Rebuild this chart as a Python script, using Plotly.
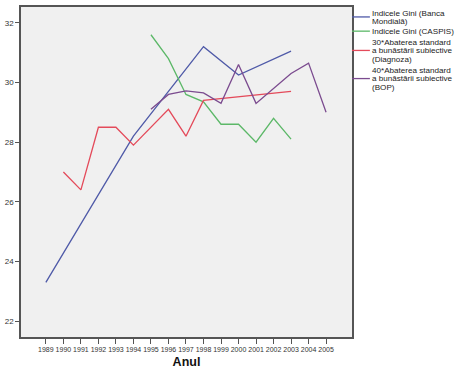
import plotly.graph_objects as go

years_bm = [1989, 1994, 1998, 2000, 2003]
gini_bm = [23.3, 28.2, 31.2, 30.25, 31.05]

years_caspis = [1995, 1996, 1997, 1998, 1999, 2000, 2001, 2002, 2003]
gini_caspis = [31.6, 30.8, 29.6, 29.35, 28.6, 28.6, 28.0, 28.8, 28.1]

years_diag = [1990, 1991, 1992, 1993, 1994, 1995, 1996, 1997, 1998, 2003]
sd_diag = [27.0, 26.4, 28.5, 28.5, 27.9, 28.5, 29.1, 28.2, 29.4, 29.7]

years_bop = [1995, 1996, 1997, 1998, 1999, 2000, 2001, 2002, 2003, 2004, 2005]
sd_bop = [29.1, 29.6, 29.72, 29.65, 29.3, 30.6, 29.3, 29.8, 30.3, 30.65, 29.0]

tick_years = list(range(1989, 2006))
y_ticks = [22, 24, 26, 28, 30, 32]

names = [["Indicele Gini (Banca", "Mondială)"],
         ["Indicele Gini (CASPIS)"],
         ["30*Abaterea standard", "a bunăstării subiective", "(Diagnoza)"],
         ["40*Abaterea standard", "a bunăstării subiective", "(BOP)"]]
colors = ["#4f5aa8", "#5cb868", "#e44a5a", "#7b4b8f"]
series = [(years_bm, gini_bm), (years_caspis, gini_caspis),
          (years_diag, sd_diag), (years_bop, sd_bop)]

fig = go.Figure()
for (xs, ys), nm, c in zip(series, names, colors):
    fig.add_trace(go.Scatter(x=xs, y=ys, mode="lines", name=" ".join(nm),
                             line=dict(color=c, width=1.3), showlegend=False))

W, H = 456, 372
ml, mr, mt, mb = 19, 104, 5, 35
pw, ph = W - ml - mr, H - mt - mb
def px(x):
    return (x - ml) / pw
def py(y):
    return 1 - (y - mt) / ph

swatch_y = [15, 29.3, 48.7, 77]
text_y = [[11.5, 19.5], [29.3], [40.5, 49, 57.5], [68.5, 77, 85.5]]
for ly, tys, nm, c in zip(swatch_y, text_y, names, colors):
    fig.add_shape(type="line", xref="paper", yref="paper",
                  x0=px(352), x1=px(370), y0=py(ly), y1=py(ly),
                  line=dict(color=c, width=1.3))
    for ty, t in zip(tys, nm):
        fig.add_annotation(xref="paper", yref="paper", x=px(371), y=py(ty),
                           xanchor="left", yanchor="middle", text=t, showarrow=False,
                           align="left", borderpad=0,
                           font=dict(family="Liberation Sans, Arial", size=8.1, color="#222"))

fig.update_layout(
    width=W, height=H,
    margin=dict(l=ml, r=mr, t=mt, b=mb),
    paper_bgcolor="white", plot_bgcolor="#f0f0f0",
    font=dict(family="Liberation Sans, Arial", color="#333"),
    xaxis=dict(range=[1987.58, 2006.48], tickvals=tick_years,
               ticktext=[str(y) for y in tick_years], tickangle=0,
               tickfont=dict(size=7, color="#333"), ticks="outside", ticklen=5,
               tickcolor="#555", showgrid=False, zeroline=False,
               showline=True, linecolor="#555", linewidth=1.5, mirror=True,
               title=dict(text="<b>Anul</b>", font=dict(size=12.5, color="#111"), standoff=5)),
    yaxis=dict(range=[21.47, 32.53], tickvals=y_ticks,
               tickfont=dict(size=8, color="#333"), ticks="outside", ticklen=4,
               tickcolor="#555", showgrid=False, zeroline=False,
               showline=True, linecolor="#555", linewidth=1.5, mirror=True),
)

fig.write_html("out.html", config={"displayModeBar": False},
               post_script="document.body.style.margin='0';document.body.style.overflow='hidden';")
